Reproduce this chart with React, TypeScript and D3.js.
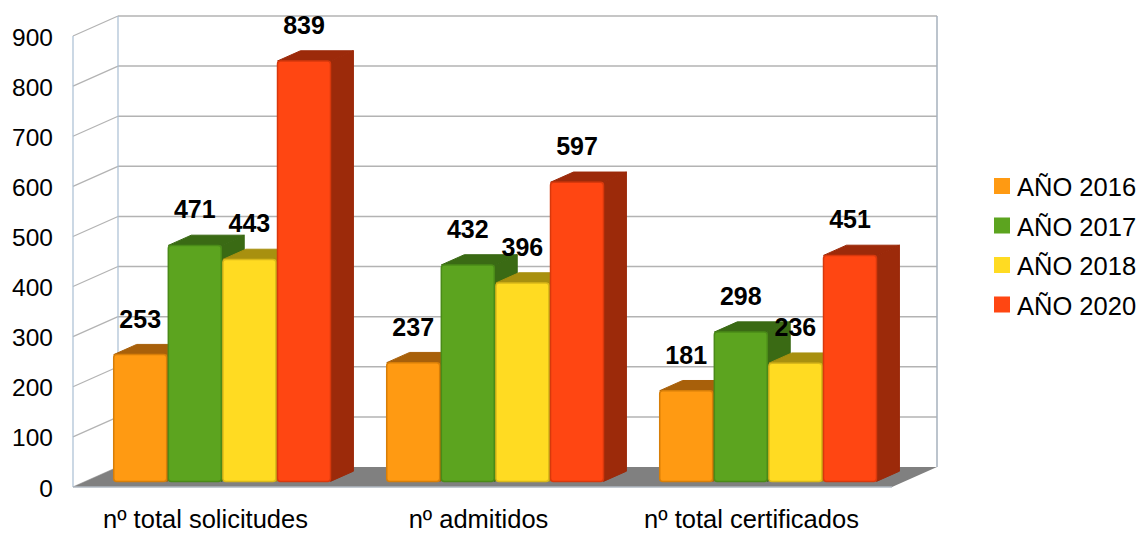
import React from "react";
import * as d3 from "d3";

const categories = ["nº total solicitudes", "nº admitidos", "nº total certificados"];
const seriesNames = ["AÑO 2016", "AÑO 2017", "AÑO 2018", "AÑO 2020"];
const values2016 = [253, 237, 181];
const values2017 = [471, 432, 298];
const values2018 = [443, 396, 236];
const values2020 = [839, 597, 451];
const yTicks = [0, 100, 200, 300, 400, 500, 600, 700, 800, 900];

const seriesValues = [values2016, values2017, values2018, values2020];
const frontColors = ["#FF9A12", "#5CA41F", "#FFDB22", "#FF4612"];
const topColors = ["#A8600A", "#3A6A14", "#A8900F", "#9C2A0A"];
const strokeColors = ["#D77E08", "#4A8A18", "#D9B81A", "#D8380C"];

const FONT = "'Liberation Sans', Arial, Helvetica, sans-serif";

export default function App() {
  const W = 1142, H = 534;
  const x0L = 73, x0R = 892;
  const yBase = 487, yTop = 36;
  const DX = 45, DY = -20;
  const t0 = 0.28, t1 = 0.79;

  const y = d3.scaleLinear().domain([0, 900]).range([yBase, yTop]);
  const x0 = d3.scaleBand<string>().domain(categories).range([x0L, x0R]).paddingInner(0).paddingOuter(0);
  const x1 = d3.scaleBand<string>().domain(seriesNames).range([0, x0.bandwidth()]).paddingInner(0.03).paddingOuter(0.515);

  const P = (x: number, yy: number, t: number): [number, number] => [x + DX * t, yy + DY * t];
  const pts = (arr: [number, number][]) => arr.map(p => p.join(",")).join(" ");

  const wallBlue = "#A9BED3";
  const grid = "#B3B3B3";

  const bars: any[] = [];
  const labels: any[] = [];
  categories.forEach((c, ci) => {
    seriesNames.forEach((s, si) => {
      const v = seriesValues[si][ci];
      const xl = (x0(c) as number) + (x1(s) as number);
      const xr = xl + x1.bandwidth();
      const yt = y(v), yb = y(0);
      const fTL = P(xl, yt, t0), fTR = P(xr, yt, t0), fBR = P(xr, yb, t0), fBL = P(xl, yb, t0);
      const bTL = P(xl, yt, t1), bTR = P(xr, yt, t1), bBR = P(xr, yb, t1);
      bars.push(
        <g key={`b-${ci}-${si}`}>
          <polygon points={pts([fTR, bTR, bBR, fBR])} fill={topColors[si]} stroke={topColors[si]} strokeWidth={1} strokeLinejoin="round" />
          <polygon points={pts([fTL, fTR, bTR, bTL])} fill={topColors[si]} stroke={topColors[si]} strokeWidth={1} strokeLinejoin="round" />
          <rect x={fTL[0]} y={fTL[1]} width={fTR[0] - fTL[0]} height={fBL[1] - fTL[1]} rx={3} fill={frontColors[si]} stroke={strokeColors[si]} strokeWidth={1.5} />
        </g>
      );
      labels.push(
        <text key={`l-${ci}-${si}`} x={(fTL[0] + fTR[0]) / 2} y={fTL[1] - 27} textAnchor="middle" fontFamily={FONT} fontWeight="bold" fontSize={25} fill="#000">{v}</text>
      );
    });
  });

  return (
    <svg width={W} height={H} style={{ position: "absolute", left: 0, top: 0, background: "#fff" }}>
      {yTicks.map(t => {
        const a = P(x0L, y(t), 1), b = P(x0R, y(t), 1), f = P(x0L, y(t), 0);
        return (
          <g key={`g-${t}`}>
            {t > 0 && <line x1={a[0]} y1={a[1]} x2={b[0]} y2={b[1]} stroke={grid} strokeWidth={1.5} />}
            <line x1={f[0]} y1={f[1]} x2={a[0]} y2={a[1]} stroke={grid} strokeWidth={1.2} />
          </g>
        );
      })}
      {(() => {
        const fl0 = P(x0L, y(0), 0), fl9 = P(x0L, y(900), 0);
        const bl0 = P(x0L, y(0), 1), bl9 = P(x0L, y(900), 1);
        const br0 = P(x0R, y(0), 1), br9 = P(x0R, y(900), 1);
        return (
          <g>
            <line x1={fl0[0]} y1={fl0[1]} x2={fl9[0]} y2={fl9[1]} stroke={wallBlue} strokeWidth={1.2} />
            <line x1={bl0[0]} y1={bl0[1]} x2={bl9[0]} y2={bl9[1]} stroke={wallBlue} strokeWidth={1.2} />
            <line x1={br0[0]} y1={br0[1]} x2={br9[0]} y2={br9[1]} stroke="#A6B0BC" strokeWidth={1.5} />
          </g>
        );
      })()}
      {(() => {
        const a = P(x0L, y(0), 0), b = P(x0R, y(0), 0), c = P(x0R, y(0), 1), d = P(x0L, y(0), 1);
        return (
          <g>
            <polygon points={pts([a, b, c, d])} fill="#808080" />
            <line x1={a[0]} y1={a[1]} x2={b[0]} y2={b[1]} stroke="#B0B8C2" strokeWidth={1.5} />
          </g>
        );
      })()}
      {bars}
      {labels}
      {yTicks.map(t => (
        <text key={`t-${t}`} x={53} y={y(t) + 1} textAnchor="end" dominantBaseline="central" fontFamily={FONT} fontSize={24.5} fill="#000">{t}</text>
      ))}
      {categories.map(c => (
        <text key={`c-${c}`} x={(x0(c) as number) + x0.bandwidth() / 2 - 4} y={528} textAnchor="middle" fontFamily={FONT} fontSize={25.5} fill="#000">{c}</text>
      ))}
      {seriesNames.map((s, i) => (
        <g key={`lg-${s}`} transform={`translate(994, ${186 + i * 39.5})`}>
          <rect x={0} y={-8} width={16} height={16} fill={frontColors[i]} />
          <text x={23} y={1} dominantBaseline="central" fontFamily={FONT} fontSize={25.5} fill="#000">{s}</text>
        </g>
      ))}
    </svg>
  );
}
